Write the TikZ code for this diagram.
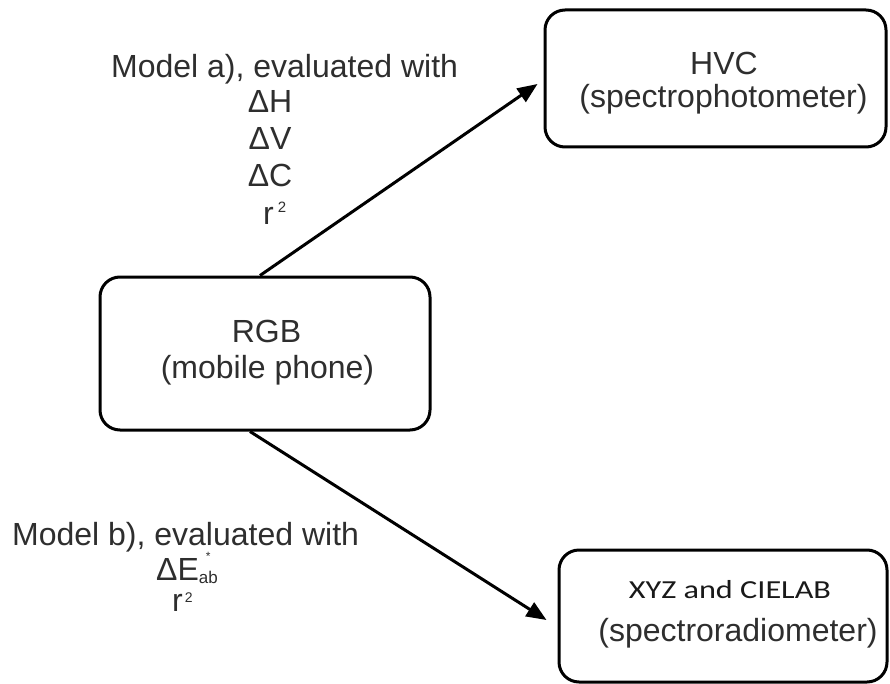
\documentclass[tikz,border=0pt]{standalone}
\usepackage{fontspec}
\setmainfont{Liberation Sans}
\newfontfamily\calibrifont{Carlito}
\usetikzlibrary{arrows.meta}
\begin{document}
\begin{tikzpicture}[x=1pt,y=-1pt,
  box/.style={draw=black, line width=3pt, rounded corners=20pt, inner sep=0pt},
  txt/.style={anchor=base, inner sep=0pt, text=black!82, font=\fontsize{32}{36}\selectfont},
  arr/.style={draw=black, line width=3pt, -{Triangle[length=20pt,width=16pt]}}]
\useasboundingbox (0,0) rectangle (890,684);
% boxes
\node[box, minimum width=341pt, minimum height=137pt] (hvc) at (715.5,78.5) {};
\node[box, minimum width=330pt, minimum height=153pt] (rgb) at (265,353.5) {};
\node[box, minimum width=328pt, minimum height=132pt] (xyz) at (723,616) {};
% box texts
\node[txt] (hvc1) at (724,75) {HVC};
\node[txt] (hvc2) at (723.5,108) {(spectrophotometer)};
\node[txt] (rgb1) at (266.5,342) {RGB};
\node[txt] (rgb2) at (267.5,378) {(mobile phone)};
\node[txt, text=black!90, font=\calibrifont\fontsize{26}{30}\selectfont] (xyz1) at (730,598) {\scalebox{1.24}[1]{XYZ and CIELAB}};
\node[txt] (xyz2) at (738,641) {(spectroradiometer)};
% connectors
\draw[arr] ([xshift=-5pt]rgb.north) -- ([xshift=-6pt,yshift=-5.5pt]hvc.west);
\draw[arr] ([xshift=-15pt]rgb.south) -- ([xshift=-11pt,yshift=-4pt]xyz.west);
% model a label
\node[txt] (ma) at (284.6,78) {Model a), evaluated with};
\node[txt] (mah) at (270,113) {ΔH};
\node[txt] (mav) at (270,150) {ΔV};
\node[txt] (mac) at (270,187) {ΔC};
\node[txt, anchor=base west] (mar) at (263,225) {r\hspace{4pt}\raisebox{12pt}{\fontsize{15}{15}\selectfont 2}};
% model b label
\node[txt] (mb) at (185.6,545) {Model b), evaluated with};
\node[txt, anchor=base west] (mbe) at (156,580) {ΔE\rlap{\hspace{7pt}\raisebox{20pt}{\fontsize{12}{12}\selectfont *}}\raisebox{-3pt}{\fontsize{17}{17}\selectfont ab}};
\node[txt, anchor=base west] (mbr) at (172,611.7) {r\hspace{2pt}\raisebox{9pt}{\fontsize{14}{14}\selectfont 2}};
\end{tikzpicture}
\end{document}
